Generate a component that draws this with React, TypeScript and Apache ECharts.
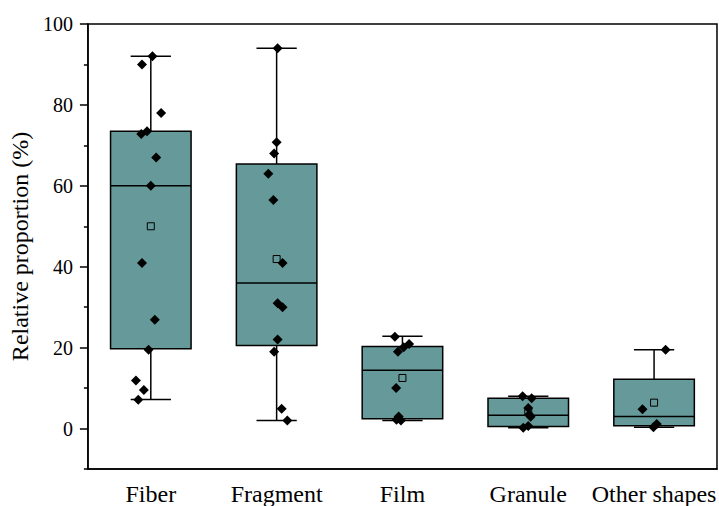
import React, { useEffect, useRef } from "react";
import * as echarts from "echarts";

const categories = ["Fiber", "Fragment", "Film", "Granule", "Other shapes"];

// box statistics: [min, Q1, median, Q3, max]
const boxStats = [
  [7.2, 19.7, 60, 73.5, 92],
  [2.0, 20.5, 36, 65.4, 94],
  [2.0, 2.4, 14.4, 20.3, 22.8],
  [0.2, 0.5, 3.3, 7.5, 8.0],
  [0.3, 0.7, 3.0, 12.2, 19.5],
];

const means = [50, 41.9, 12.5, 4.0, 6.4];

// raw points (values) and their horizontal jitter in category units
const fiberValues = [92, 90, 78, 73.5, 72.8, 67, 60, 40.9, 26.9, 19.5, 11.9, 9.5, 7.1];
const fiberJitter = [0.013, -0.07, 0.082, -0.03, -0.076, 0.043, 0, -0.07, 0.032, -0.018, -0.118, -0.055, -0.1];
const fragmentValues = [94, 70.8, 68, 63, 56.5, 40.9, 31, 30, 22, 19, 4.9, 2.0];
const fragmentJitter = [0.008, 0, -0.02, -0.066, -0.026, 0.047, 0.008, 0.047, 0.008, -0.02, 0.04, 0.085];
const filmValues = [22.7, 20.9, 20.1, 19, 10, 3.0, 2.0, 2.2];
const filmJitter = [-0.06, 0.053, 0.01, -0.036, -0.05, -0.03, -0.012, -0.047];
const granuleValues = [8.0, 7.5, 5.1, 3.5, 2.9, 0.2, 0.6];
const granuleJitter = [-0.045, 0.027, 0, 0.008, 0.019, -0.04, 0];
const otherValues = [19.5, 4.8, 1.1, 0.3];
const otherJitter = [0.092, -0.092, 0.021, -0.005];

const yMajorTicks = [0, 20, 40, 60, 80, 100];
const yMinorTicks = [-10, 10, 30, 50, 70, 90];

const pointGroups = [
  [fiberValues, fiberJitter],
  [fragmentValues, fragmentJitter],
  [filmValues, filmJitter],
  [granuleValues, granuleJitter],
  [otherValues, otherJitter],
];

const FONT = "Liberation Serif";
const BOX_COLOR = "#669999";

export default function App() {
  const ref = useRef<HTMLDivElement>(null);

  useEffect(() => {
    if (!ref.current) return;
    const chart = echarts.init(ref.current, null, { renderer: "svg" });

    const pointData: number[][] = [];
    pointGroups.forEach((g, i) => {
      const vals = g[0] as number[];
      const jit = g[1] as number[];
      vals.forEach((v, k) => pointData.push([i + jit[k], v]));
    });

    const option: any = {
      animation: false,
      backgroundColor: "#fff",
      textStyle: { fontFamily: FONT },
      grid: {
        left: 85,
        right: 1,
        top: 24,
        bottom: 36,
        show: true,
        borderColor: "#000",
        borderWidth: 1.5,
        backgroundColor: "transparent",
      },
      xAxis: [
        {
          type: "category",
          data: categories,
          boundaryGap: true,
          axisLine: { onZero: false, lineStyle: { color: "#000", width: 1.5 } },
          axisTick: { alignWithLabel: true, length: 8, lineStyle: { color: "#000", width: 1.5 } },
          axisLabel: {
            color: "#000",
            fontFamily: FONT,
            fontSize: 24,
            margin: 13,
            interval: 0,
          },
          splitLine: { show: false },
        },
        {
          type: "value",
          min: -0.5,
          max: 4.5,
          show: false,
          axisLine: { show: false, onZero: false },
          splitLine: { show: false },
        },
      ],
      yAxis: [
        {
          type: "value",
          min: -10,
          max: 100,
          interval: 10,
          name: "Relative proportion (%)",
          nameLocation: "middle",
          nameGap: 54,
          nameTextStyle: { color: "#000", fontFamily: FONT, fontSize: 24 },
          axisLine: { show: true, onZero: false, lineStyle: { color: "#000", width: 1.5 } },
          axisTick: {
            show: true,
            length: 8,
            customValues: yMajorTicks,
            lineStyle: { color: "#000", width: 1.5 },
          },
          axisLabel: {
            color: "#000",
            fontFamily: FONT,
            fontSize: 20,
            margin: 15,
            customValues: yMajorTicks,
          },
          splitLine: { show: false },
        },
        {
          type: "value",
          min: -10,
          max: 100,
          interval: 10,
          position: "left",
          axisLine: { show: false, onZero: false },
          axisTick: {
            show: true,
            length: 4,
            customValues: yMinorTicks,
            lineStyle: { color: "#000", width: 1.5 },
          },
          axisLabel: { show: false },
          splitLine: { show: false },
        },
      ],
      series: [
        {
          type: "custom",
          xAxisIndex: 0,
          yAxisIndex: 0,
          z: 2,
          data: boxStats.map((b, i) => [i, ...b]),
          encode: { x: 0, y: [1, 2, 3, 4, 5] },
          renderItem: (params: any, api: any) => {
            const idx = api.value(0);
            const vMin = api.value(1);
            const q1 = api.value(2);
            const med = api.value(3);
            const q3 = api.value(4);
            const vMax = api.value(5);
            const band = api.size([1, 0])[0];
            const bw = band * 0.64;
            const cw = band * 0.32;
            const pMin = api.coord([idx, vMin]);
            const pQ1 = api.coord([idx, q1]);
            const pMed = api.coord([idx, med]);
            const pQ3 = api.coord([idx, q3]);
            const pMax = api.coord([idx, vMax]);
            const x = pMed[0];
            const ls = { stroke: "#000", lineWidth: 1.5, fill: null };
            return {
              type: "group",
              children: [
                { type: "line", shape: { x1: x, y1: pQ3[1], x2: x, y2: pMax[1] }, style: ls },
                { type: "line", shape: { x1: x, y1: pQ1[1], x2: x, y2: pMin[1] }, style: ls },
                { type: "line", shape: { x1: x - cw / 2, y1: pMax[1], x2: x + cw / 2, y2: pMax[1] }, style: ls },
                { type: "line", shape: { x1: x - cw / 2, y1: pMin[1], x2: x + cw / 2, y2: pMin[1] }, style: ls },
                {
                  type: "rect",
                  shape: { x: x - bw / 2, y: pQ3[1], width: bw, height: pQ1[1] - pQ3[1] },
                  style: { fill: BOX_COLOR, stroke: "#000", lineWidth: 1.5 },
                },
                { type: "line", shape: { x1: x - bw / 2, y1: pMed[1], x2: x + bw / 2, y2: pMed[1] }, style: ls },
              ],
            };
          },
        },
        {
          type: "scatter",
          xAxisIndex: 0,
          yAxisIndex: 0,
          z: 3,
          symbol: "rect",
          symbolSize: 7,
          itemStyle: { color: BOX_COLOR, borderColor: "#000", borderWidth: 1, opacity: 1 },
          data: means.map((m, i) => [i, m]),
        },
        {
          type: "scatter",
          xAxisIndex: 1,
          yAxisIndex: 0,
          z: 4,
          symbol: "diamond",
          symbolSize: 10,
          itemStyle: { color: "#000", opacity: 1 },
          data: pointData,
        },
      ],
    };

    chart.setOption(option);
    return () => chart.dispose();
  }, []);

  return <div ref={ref} style={{ width: 719, height: 506, position: "absolute", left: 0, top: 0 }} />;
}
